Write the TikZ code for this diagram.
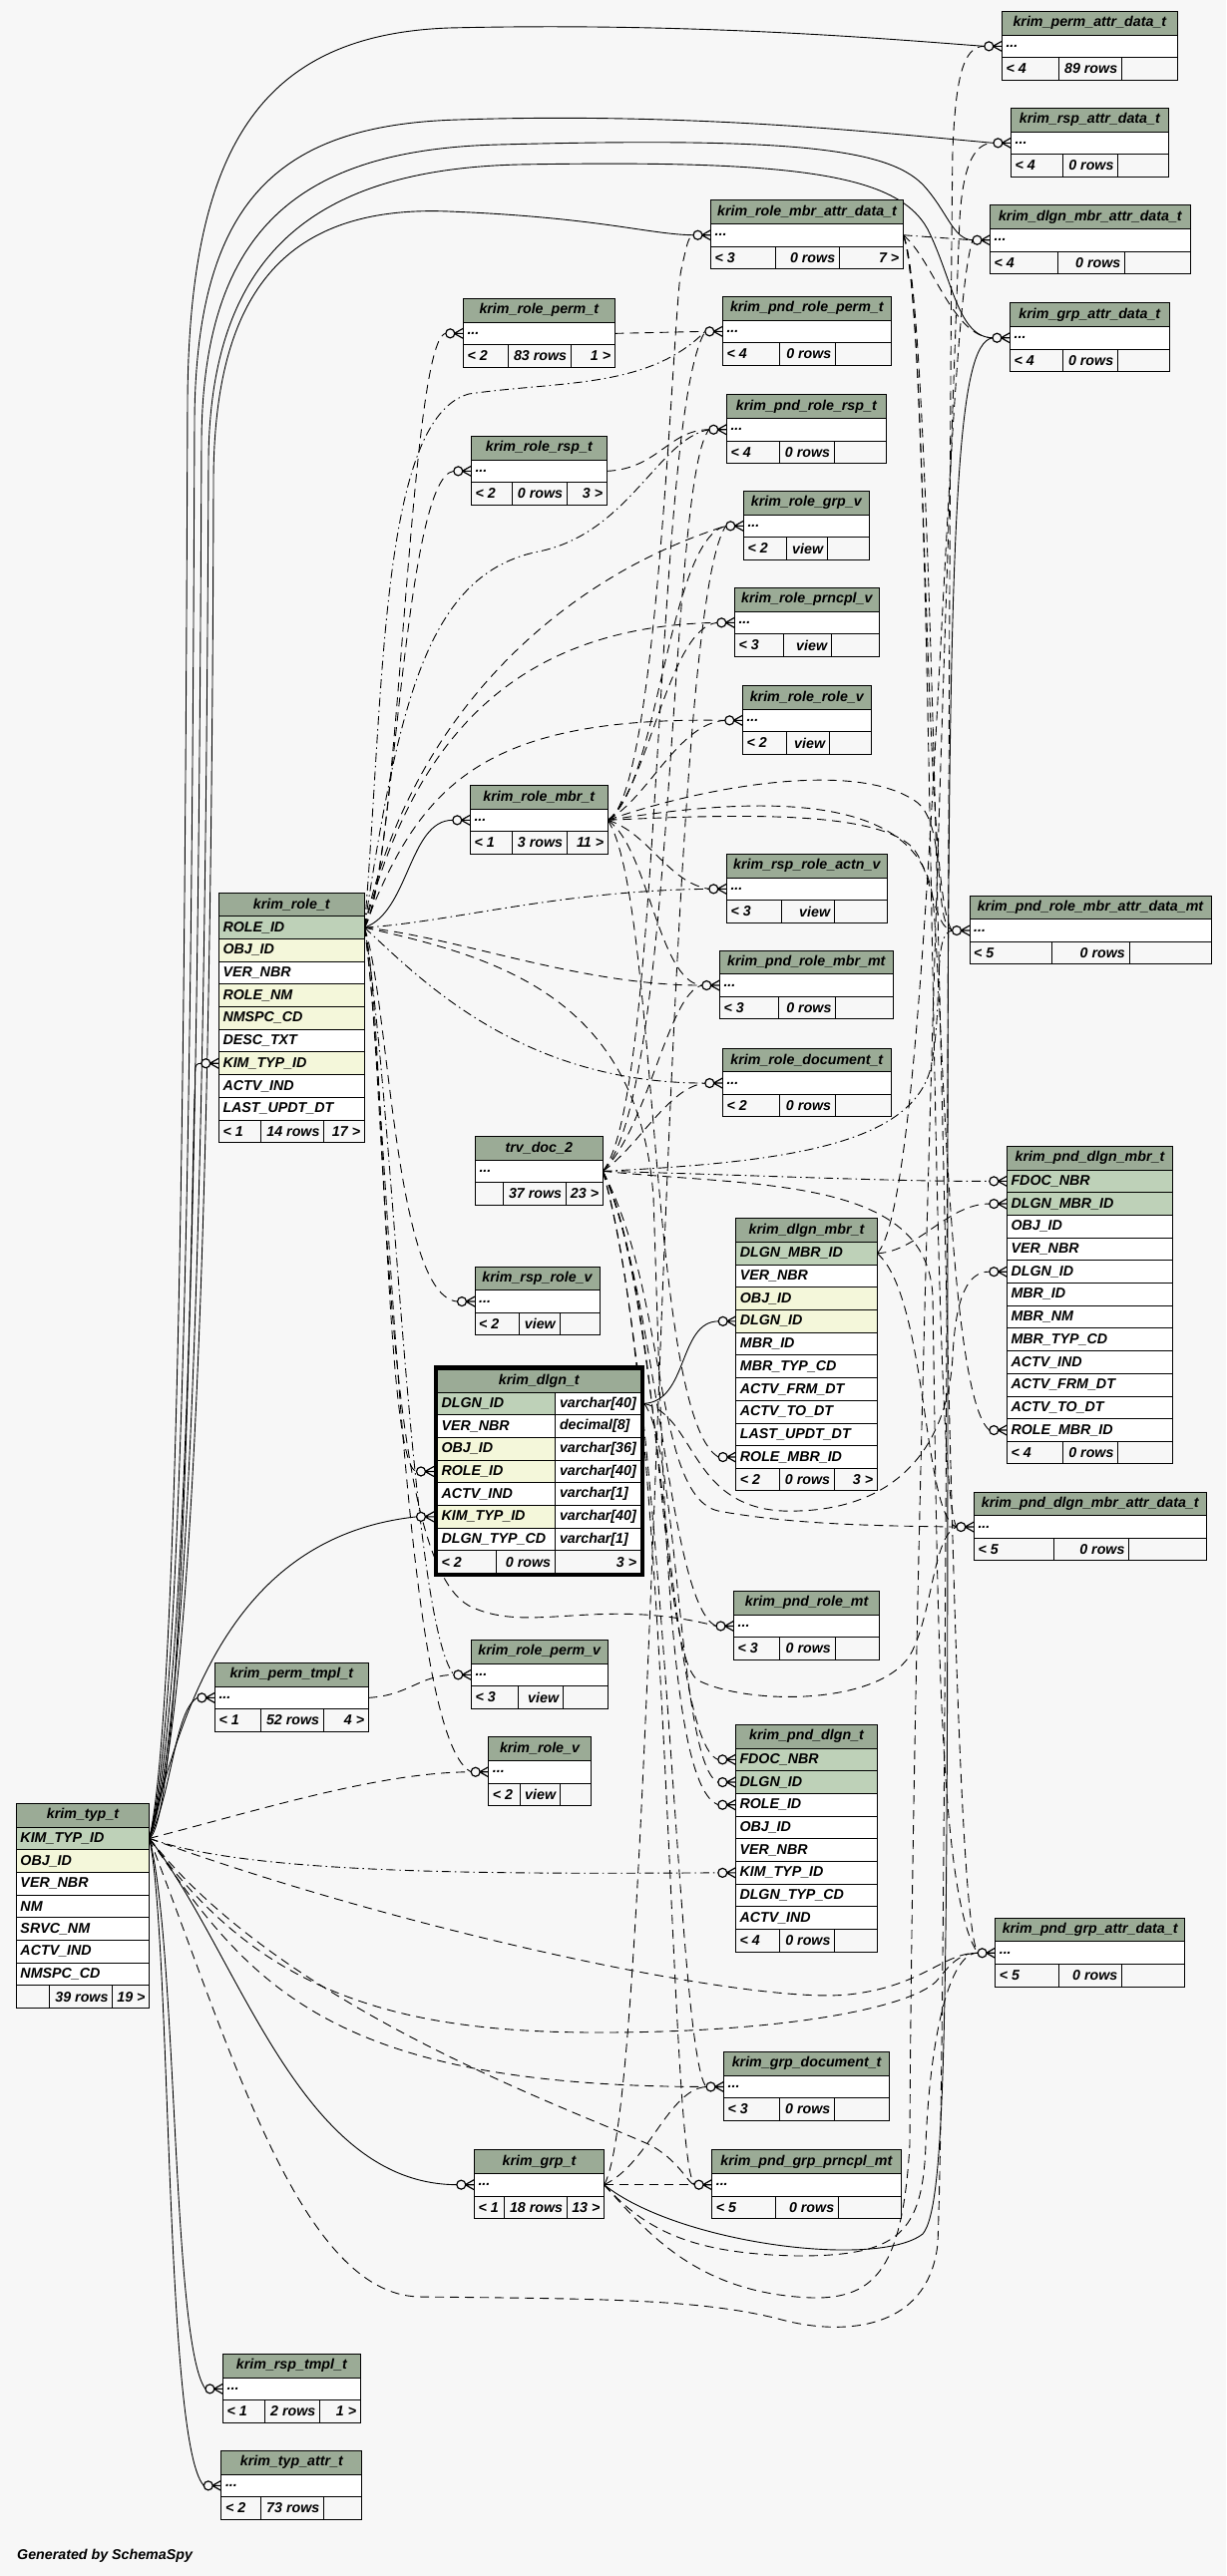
\documentclass[tikz,border=0pt]{standalone}
\usepackage{fontspec}
\setmainfont{Liberation Sans}
\usetikzlibrary{fit}
\definecolor{bgc}{HTML}{F7F7F7}
\definecolor{hdr}{HTML}{9BAB96}
\definecolor{pkc}{HTML}{BED1B8}
\definecolor{idxc}{HTML}{F4F7DA}
\definecolor{wht}{HTML}{FFFFFF}
\pgfdeclarelayer{bgl}
\pgfdeclarelayer{edges}
\pgfsetlayers{bgl,edges,main}
\newcommand\tfont{\fontsize{14.3}{17}\selectfont\bfseries\itshape}
\tikzset{
  tt/.style={font=\tfont, inner sep=0pt, text=black},
  tblarea/.style={inner sep=0pt, draw=none},
  fk/.style={draw=black, line width=0.9bp},
  ifk/.style={fk, dash pattern=on 9bp off 6bp},
  dfk/.style={fk, dash pattern=on 9bp off 4bp on 1.5bp off 4bp},
  mk/.style={draw=black, line width=1.2bp},
  cellb/.style={draw=black, line width=0.9bp},
}
\newcommand\cellbox[5]{\filldraw[cellb, fill=#5] (#1,#2) rectangle (#3,#4);}
\def\footcells#1|#2|#3\endf{%
  \node[tt,anchor=west] (\tname-fl) at (\fxa+4,\fym) {#1};%
  \node[tt,anchor=east] (\tname-fm) at (\fxc-4,\fym) {#2};%
  \node[tt,anchor=east] (\tname-fr) at (\fxd-4,\fym) {#3};}
\newcommand\stbl[8]{%
  \pgfmathsetmacro\ya{#3+23.7}%
  \pgfmathsetmacro\yb{#3+46.4}%
  \pgfmathsetmacro\yc{#3+68.9}%
  \pgfmathsetmacro\xm{(#2+#4)/2}%
  \pgfmathsetmacro\yh{#3+11.85}%
  \pgfmathsetmacro\yr{#3+35.05}%
  \pgfmathsetmacro\yf{#3+57.65}%
  \node[tblarea, fit={(#2,#3) (#4,\yc)}] (#1) {};%
  \cellbox{#2}{#3}{#4}{\ya}{hdr}%
  \cellbox{#2}{\ya}{#4}{\yb}{wht}%
  \cellbox{#2}{\yb}{#5}{\yc}{bgc}%
  \cellbox{#5}{\yb}{#6}{\yc}{bgc}%
  \cellbox{#6}{\yb}{#4}{\yc}{bgc}%
  \node[tt] (#1-title) at (\xm,\yh) {#7};%
  \node[tt,anchor=west] (#1-row) at (#2+4,\yr) {...};%
  \coordinate (#1-w) at (#2,\yr);%
  \coordinate (#1-e) at (#4,\yr);%
  \def\fxa{#2}\def\fxc{#6}\def\fxd{#4}\let\fym\yf\def\tname{#1}%
  \footcells#8\endf}
\newcommand\ftbl[9]{%
  \pgfmathsetmacro\xm{(#2+#4)/2}%
  \pgfmathsetmacro\ya{#3+23.7}%
  \pgfmathsetmacro\yh{#3+11.85}%
  \cellbox{#2}{#3}{#4}{\ya}{hdr}%
  \node[tt] (#1-title) at (\xm,\yh) {#5};%
  \foreach \rowc/\rowt [count=\i from 0] in {#6} {%
    \pgfmathsetmacro\ry{#3+23.7+22.7*\i}%
    \pgfmathsetmacro\ryb{\ry+22.7}%
    \pgfmathsetmacro\ryc{\ry+11.35}%
    \cellbox{#2}{\ry}{#4}{\ryb}{\rowc}%
    \node[tt,anchor=west] (#1-r\i) at (#2+4,\ryc) {\rowt};%
    \coordinate (#1-r\i-w) at (#2,\ryc);%
    \coordinate (#1-r\i-e) at (#4,\ryc);%
    \xdef\nrows{\i}%
  }%
  \pgfmathsetmacro\yb{#3+23.7+22.7*(\nrows+1)}%
  \pgfmathsetmacro\yc{\yb+22.5}%
  \pgfmathsetmacro\yf{\yb+11.25}%
  \cellbox{#2}{\yb}{#7}{\yc}{bgc}%
  \cellbox{#7}{\yb}{#8}{\yc}{bgc}%
  \cellbox{#8}{\yb}{#4}{\yc}{bgc}%
  \node[tblarea, fit={(#2,#3) (#4,\yc)}] (#1) {};%
  \def\fxa{#2}\def\fxc{#8}\def\fxd{#4}\let\fym\yf\def\tname{#1}%
  \footcells#9\endf}
\newcommand\childpt[2]{\coordinate (#1) at ([xshift=-17.5bp]#2);}
\newcommand\crowmark[1]{%
  \draw[mk] ([xshift=-9bp]#1) -- ([yshift=5bp]#1) ([xshift=-9bp]#1) -- (#1) ([xshift=-9bp]#1) -- ([yshift=-5bp]#1);%
  \draw[mk, fill=bgc] ([xshift=-13bp]#1) circle (4.5bp);}
\begin{document}
\begin{tikzpicture}[x=1bp,y=-1bp]
\useasboundingbox (0,0) rectangle (1229,2583);
\begin{pgfonlayer}{bgl}
\fill[bgc] (0,0) rectangle (1229,2583);
\end{pgfonlayer}
% ---------- tables ----------
\stbl{permattr}{1004.3}{11.3}{1180.4}{1061.3}{1124.4}{krim\_perm\_attr\_data\_t}{< 4|89 rows|}
\stbl{rspattr}{1013.4}{108.3}{1171.3}{1065.4}{1120.7}{krim\_rsp\_attr\_data\_t}{< 4|0 rows|}
\stbl{rolembrattr}{712.5}{200.7}{905.5}{777.3}{841.4}{krim\_role\_mbr\_attr\_data\_t}{< 3|0 rows|7 >}
\stbl{dlgnmbrattr}{992.5}{205.7}{1193.3}{1060.3}{1127.5}{krim\_dlgn\_mbr\_attr\_data\_t}{< 4|0 rows|}
\stbl{grpattr}{1012.4}{303.7}{1172.3}{1065.4}{1120.4}{krim\_grp\_attr\_data\_t}{< 4|0 rows|}
\stbl{roleperm}{464.3}{299.3}{616.3}{509.3}{572.3}{krim\_role\_perm\_t}{< 2|83 rows|1 >}
\stbl{pndroleperm}{724.3}{297.3}{893.3}{781.3}{837.6}{krim\_pnd\_role\_perm\_t}{< 4|0 rows|}
\stbl{rolersp}{472.3}{437.3}{608.3}{513.3}{568.3}{krim\_role\_rsp\_t}{< 2|0 rows|3 >}
\stbl{pndrolersp}{728.3}{395.7}{888.3}{781.3}{836.3}{krim\_pnd\_role\_rsp\_t}{< 4|0 rows|}
\stbl{rolegrpv}{745.3}{492.3}{871.3}{788.3}{829.3}{krim\_role\_grp\_v}{< 2|view|}
\stbl{roleprncplv}{736.3}{589.3}{881.3}{785.3}{833.3}{krim\_role\_prncpl\_v}{< 3|view|}
\stbl{rolerolev}{744.3}{687.3}{873.3}{788.3}{831.3}{krim\_role\_role\_v}{< 2|view|}
\stbl{rolembr}{471.3}{787.3}{609.3}{513.3}{568.3}{krim\_role\_mbr\_t}{< 1|3 rows|11 >}
\stbl{rsproleactnv}{728.3}{856.3}{889.3}{783.3}{836.3}{krim\_rsp\_role\_actn\_v}{< 3|view|}
\stbl{pndrolembrattr}{972}{898}{1214}{1054}{1132}{krim\_pnd\_role\_mbr\_attr\_data\_mt}{< 5|0 rows|}
\stbl{pndrolembrmt}{721.3}{953}{895.3}{780.3}{837.7}{krim\_pnd\_role\_mbr\_mt}{< 3|0 rows|}
\stbl{roledoc}{724.3}{1051}{893.3}{781.3}{837.3}{krim\_role\_document\_t}{< 2|0 rows|}
\stbl{trv}{476.3}{1139.3}{604.3}{504.3}{567.3}{trv\_doc\_2}{|37 rows|23 >}
\stbl{rsprolev}{476}{1270}{601}{520.6}{561}{krim\_rsp\_role\_v}{< 2|view|}
\stbl{pnddlgnmbrattr}{976.3}{1496}{1209.3}{1056}{1131.7}{krim\_pnd\_dlgn\_mbr\_attr\_data\_t}{< 5|0 rows|}
\stbl{pndrolemt}{735.5}{1595.4}{881.8}{781.3}{837}{krim\_pnd\_role\_mt}{< 3|0 rows|}
\stbl{rolepermv}{472.3}{1644.3}{609.3}{519.3}{564.3}{krim\_role\_perm\_v}{< 3|view|}
\stbl{permtmpl}{215.3}{1667.3}{369.3}{261.7}{324.3}{krim\_perm\_tmpl\_t}{< 1|52 rows|4 >}
\stbl{rolev}{489.7}{1741.7}{592.3}{521.3}{561.3}{krim\_role\_v}{< 2|view|}
\stbl{pndgrpattr}{997.6}{1923.2}{1187.7}{1061.3}{1124.5}{krim\_pnd\_grp\_attr\_data\_t}{< 5|0 rows|}
\stbl{grpdoc}{725.5}{2057.4}{891.7}{781.3}{836.5}{krim\_grp\_document\_t}{< 3|0 rows|}
\stbl{grp}{475.3}{2155.6}{605.6}{505.7}{568.3}{krim\_grp\_t}{< 1|18 rows|13 >}
\stbl{pndgrpprncpl}{713.6}{2155.6}{903.1}{777.3}{840.4}{krim\_pnd\_grp\_prncpl\_mt}{< 5|0 rows|}
\stbl{rsptmpl}{223.4}{2360.3}{361.3}{265}{320.5}{krim\_rsp\_tmpl\_t}{< 1|2 rows|1 >}
\stbl{typattr}{221.8}{2457.3}{362.9}{261}{324.5}{krim\_typ\_attr\_t}{< 2|73 rows|}
\ftbl{role}{219.3}{895}{365.3}{krim\_role\_t}{pkc/ROLE\_ID, idxc/OBJ\_ID, wht/VER\_NBR, idxc/ROLE\_NM, idxc/NMSPC\_CD, wht/DESC\_TXT, idxc/KIM\_TYP\_ID, wht/ACTV\_IND, wht/LAST\_UPDT\_DT}{261.3}{324.7}{< 1|14 rows|17 >}
\ftbl{pnddlgnmbr}{1009.3}{1149.3}{1175.7}{krim\_pnd\_dlgn\_mbr\_t}{pkc/FDOC\_NBR, pkc/DLGN\_MBR\_ID, wht/OBJ\_ID, wht/VER\_NBR, wht/DLGN\_ID, wht/MBR\_ID, wht/MBR\_NM, wht/MBR\_TYP\_CD, wht/ACTV\_IND, wht/ACTV\_FRM\_DT, wht/ACTV\_TO\_DT, wht/ROLE\_MBR\_ID}{1065.3}{1120.7}{< 4|0 rows|}
\ftbl{dlgnmbr}{737.7}{1221.7}{879.3}{krim\_dlgn\_mbr\_t}{pkc/DLGN\_MBR\_ID, wht/VER\_NBR, idxc/OBJ\_ID, idxc/DLGN\_ID, wht/MBR\_ID, wht/MBR\_TYP\_CD, wht/ACTV\_FRM\_DT, wht/ACTV\_TO\_DT, wht/LAST\_UPDT\_DT, wht/ROLE\_MBR\_ID}{781.7}{836.3}{< 2|0 rows|3 >}
\ftbl{pnddlgn}{737.3}{1729.3}{879.7}{krim\_pnd\_dlgn\_t}{pkc/FDOC\_NBR, pkc/DLGN\_ID, wht/ROLE\_ID, wht/OBJ\_ID, wht/VER\_NBR, wht/KIM\_TYP\_ID, wht/DLGN\_TYP\_CD, wht/ACTV\_IND}{781.3}{836.7}{< 4|0 rows|}
\ftbl{typ}{16.3}{1808.3}{149.7}{krim\_typ\_t}{pkc/KIM\_TYP\_ID, idxc/OBJ\_ID, wht/VER\_NBR, wht/NM, wht/SRVC\_NM, wht/ACTV\_IND, wht/NMSPC\_CD}{49.3}{112.7}{|39 rows|19 >}
% krim_dlgn_t (selected table, thick border)
\node[tblarea, fit={(435,1369.3) (645.7,1580.7)}] (dlgn) {};
\cellbox{438.4}{1373}{642.3}{1396}{hdr}
\node[tt] (dlgn-title) at (540.3,1384.5) {krim\_dlgn\_t};
\foreach \rowc/\rowt/\rowy [count=\i from 0] in {pkc/DLGN\_ID/varchar[40], wht/VER\_NBR/decimal[8], idxc/OBJ\_ID/varchar[36], idxc/ROLE\_ID/varchar[40], wht/ACTV\_IND/varchar[1], idxc/KIM\_TYP\_ID/varchar[40], wht/DLGN\_TYP\_CD/varchar[1]} {
  \pgfmathsetmacro\ry{1396+22.7*\i}
  \pgfmathsetmacro\ryb{\ry+22.7}
  \pgfmathsetmacro\ryc{\ry+11.35}
  \cellbox{438.4}{\ry}{556.3}{\ryb}{\rowc}
  \cellbox{556.3}{\ry}{642.3}{\ryb}{wht}
  \node[tt,anchor=west] (dlgn-r\i) at (442.4,\ryc) {\rowt};
  \node[tt,anchor=west] (dlgn-ty\i) at (560.8,\ryc) {\rowy};
  \coordinate (dlgn-r\i-w) at (435,\ryc);
  \coordinate (dlgn-r\i-e) at (645.7,\ryc);
}
\cellbox{438.4}{1554.9}{497.3}{1577.3}{bgc}
\cellbox{497.3}{1554.9}{556.3}{1577.3}{bgc}
\cellbox{556.3}{1554.9}{642.3}{1577.3}{bgc}
\node[tt,anchor=west] (dlgn-fl) at (442.4,1566.1) {< 2};
\node[tt,anchor=east] (dlgn-fm) at (552.3,1566.1) {0 rows};
\node[tt,anchor=east] (dlgn-fr) at (638.3,1566.1) {3 >};
\draw[line width=3.4bp] (436.7,1371) rectangle (644,1579);
\node[tt,anchor=west] (gen) at (17,2563) {Generated by SchemaSpy};
% ---------- child end points ----------
\childpt{i-permattr}{permattr-w}
\childpt{i-rspattr}{rspattr-w}
\childpt{i-rolembrattr}{rolembrattr-w}
\childpt{i-dlgnmbrattr}{dlgnmbrattr-w}
\childpt{i-grpattr}{grpattr-w}
\childpt{i-roleperm}{roleperm-w}
\childpt{i-pndroleperm}{pndroleperm-w}
\childpt{i-rolersp}{rolersp-w}
\childpt{i-pndrolersp}{pndrolersp-w}
\childpt{i-rolegrpv}{rolegrpv-w}
\childpt{i-roleprncplv}{roleprncplv-w}
\childpt{i-rolerolev}{rolerolev-w}
\childpt{i-rolembr}{rolembr-w}
\childpt{i-rsproleactnv}{rsproleactnv-w}
\childpt{i-pndrolembrattr}{pndrolembrattr-w}
\childpt{i-roleKIM}{role-r6-w}
\childpt{i-pndrolembrmt}{pndrolembrmt-w}
\childpt{i-roledoc}{roledoc-w}
\childpt{i-pdmFDOC}{pnddlgnmbr-r0-w}
\childpt{i-pdmDLGNMBR}{pnddlgnmbr-r1-w}
\childpt{i-pdmDLGN}{pnddlgnmbr-r4-w}
\childpt{i-pdmROLEMBR}{pnddlgnmbr-r11-w}
\childpt{i-dmDLGN}{dlgnmbr-r3-w}
\childpt{i-dmROLEMBR}{dlgnmbr-r9-w}
\childpt{i-rsprolev}{rsprolev-w}
\childpt{i-dlgnROLE}{dlgn-r3-w}
\childpt{i-dlgnKIM}{dlgn-r5-w}
\childpt{i-pnddlgnmbrattr}{pnddlgnmbrattr-w}
\childpt{i-pndrolemt}{pndrolemt-w}
\childpt{i-rolepermv}{rolepermv-w}
\childpt{i-permtmpl}{permtmpl-w}
\childpt{i-rolev}{rolev-w}
\childpt{i-pdFDOC}{pnddlgn-r0-w}
\childpt{i-pdDLGN}{pnddlgn-r1-w}
\childpt{i-pdROLE}{pnddlgn-r2-w}
\childpt{i-pdKIM}{pnddlgn-r5-w}
\childpt{i-pndgrpattr}{pndgrpattr-w}
\childpt{i-grpdoc}{grpdoc-w}
\childpt{i-grp}{grp-w}
\childpt{i-pndgrpprncpl}{pndgrpprncpl-w}
\childpt{i-rsptmpl}{rsptmpl-w}
\childpt{i-typattr}{typattr-w}
% ---------- connectors ----------
\begin{pgfonlayer}{edges}
% solid, from krim_typ_t
\draw[fk] (typ-r0-e) .. controls (185,1820) and (192,1200) .. (195,1100) .. controls (197,1075) and (192,1066) .. (i-roleKIM);
\draw[fk] (typ-r0-e) .. controls (172,1800) and (175,1715) .. (i-permtmpl);
\draw[fk] (typ-r0-e) .. controls (185,1700) and (240,1540) .. (i-dlgnKIM);
\draw[fk] (typ-r0-e) .. controls (240,1960) and (300,2190) .. (i-grp);
\draw[fk] (typ-r0-e) .. controls (178,1950) and (172,2350) .. (i-rsptmpl);
\draw[fk] (typ-r0-e) .. controls (172,1950) and (165,2450) .. (i-typattr);
\draw[fk] (typ-r0-e) .. controls (182,1700) and (186,900) .. (188,400) .. controls (190,150) and (260,35) .. (450,28) .. controls (700,22) and (900,40) .. (i-permattr);
\draw[fk] (typ-r0-e) .. controls (188,1700) and (193,900) .. (195,420) .. controls (197,200) and (280,125) .. (460,120) .. controls (700,112) and (900,135) .. (i-rspattr);
\draw[fk] (typ-r0-e) .. controls (194,1700) and (200,900) .. (202,440) .. controls (204,230) and (300,150) .. (500,145) .. controls (800,137) and (890,150) .. (925,185) .. controls (950,212) and (955,240) .. (i-dlgnmbrattr);
\draw[fk] (typ-r0-e) .. controls (200,1700) and (207,900) .. (209,460) .. controls (211,250) and (320,170) .. (520,165) .. controls (800,160) and (900,175) .. (930,230) .. controls (955,280) and (960,338) .. (i-grpattr);
\draw[fk] (typ-r0-e) .. controls (205,1700) and (213,900) .. (214,480) .. controls (215,300) and (280,205) .. (450,212) .. controls (600,218) and (650,235) .. (i-rolembrattr);
% other solid
\draw[ifk] (rolembr-e) .. controls (660,800) and (675,300) .. (683,270) .. controls (688,248) and (690,236) .. (i-rolembrattr);
\draw[fk] (role-r0-e) .. controls (410,915) and (410,822) .. (i-rolembr);
\draw[fk] (dlgn-r0-e) .. controls (690,1405) and (680,1325) .. (i-dmDLGN);
\draw[fk] (grp-e) .. controls (680,2250) and (880,2275) .. (925,2240) .. controls (950,2210) and (950,2000) .. (950,1200) .. controls (950,500) and (960,345) .. (i-grpattr);
% implied, from krim_role_t
\draw[ifk] (role-r0-e) .. controls (400,880) and (410,340) .. (i-roleperm);
\draw[ifk] (role-r0-e) .. controls (395,880) and (405,478) .. (i-rolersp);
\draw[dfk] (role-r0-e) .. controls (385,700) and (380,420) .. (470,395) .. controls (560,382) and (650,390) .. (i-pndroleperm);
\draw[dfk] (role-r0-e) .. controls (400,700) and (430,575) .. (540,553) .. controls (630,535) and (660,440) .. (i-pndrolersp);
\draw[ifk] (role-r0-e) .. controls (410,720) and (560,580) .. (i-rolegrpv);
\draw[ifk] (role-r0-e) .. controls (410,760) and (500,628) .. (i-roleprncplv);
\draw[ifk] (role-r0-e) .. controls (420,790) and (480,718) .. (i-rolerolev);
\draw[dfk] (role-r0-e) .. controls (450,925) and (560,893) .. (i-rsproleactnv);
\draw[ifk] (role-r0-e) .. controls (460,940) and (580,988) .. (i-pndrolembrmt);
\draw[dfk] (role-r0-e) .. controls (420,980) and (520,1086) .. (i-roledoc);
\draw[ifk] (role-r0-e) .. controls (390,1000) and (395,1300) .. (i-rsprolev);
\draw[ifk] (role-r0-e) .. controls (385,1000) and (385,1470) .. (i-dlgnROLE);
\draw[dfk] (role-r0-e) .. controls (395,1100) and (410,1620) .. (i-rolepermv);
\draw[ifk] (role-r0-e) .. controls (390,1100) and (400,1740) .. (i-rolev);
\draw[ifk] (role-r0-e) .. controls (390,1100) and (380,1560) .. (470,1610) .. controls (530,1640) and (600,1600) .. (i-pndrolemt);
\draw[ifk] (role-r0-e) .. controls (500,960) and (640,1000) .. (655,1200) .. controls (665,1500) and (670,1790) .. (i-pdROLE);
% implied, from krim_role_mbr_t
\draw[ifk] (rolembr-e) .. controls (660,790) and (670,540) .. (i-rolegrpv);
\draw[ifk] (rolembr-e) .. controls (650,790) and (670,630) .. (i-roleprncplv);
\draw[ifk] (rolembr-e) .. controls (650,800) and (680,725) .. (i-rolerolev);
\draw[ifk] (rolembr-e) .. controls (650,835) and (670,885) .. (i-rsproleactnv);
\draw[ifk] (rolembr-e) .. controls (650,850) and (660,985) .. (i-pndrolembrmt);
\draw[ifk] (rolembr-e) .. controls (700,790) and (860,760) .. (920,805) .. controls (950,830) and (935,925) .. (i-pndrolembrattr);
\draw[ifk] (rolembr-e) .. controls (760,815) and (880,815) .. (915,850) .. controls (935,875) and (935,930) .. (i-pndrolembrattr);
\draw[ifk] (rolembr-e) .. controls (660,900) and (650,1420) .. (i-dmROLEMBR);
\draw[ifk] (rolembr-e) .. controls (750,800) and (920,790) .. (935,900) .. controls (945,1000) and (950,1400) .. (i-pdmROLEMBR);
% implied, from trv_doc_2
\draw[ifk] (trv-e) .. controls (665,1100) and (655,420) .. (i-pndroleperm);
\draw[ifk] (trv-e) .. controls (678,1100) and (670,480) .. (i-pndrolersp);
\draw[ifk] (trv-e) .. controls (650,1130) and (670,995) .. (i-pndrolembrmt);
\draw[ifk] (trv-e) .. controls (640,1150) and (670,1090) .. (i-roledoc);
\draw[dfk] (trv-e) .. controls (800,1165) and (925,1145) .. (935,1060) .. controls (945,1000) and (935,935) .. (i-pndrolembrattr);
\draw[dfk] (trv-e) .. controls (750,1178) and (900,1185) .. (i-pdmFDOC);
\draw[ifk] (trv-e) .. controls (670,1300) and (655,1500) .. (720,1515) .. controls (800,1530) and (900,1530) .. (i-pnddlgnmbrattr);
\draw[ifk] (trv-e) .. controls (660,1300) and (670,1610) .. (i-pndrolemt);
\draw[ifk] (trv-e) .. controls (665,1300) and (668,1745) .. (i-pdFDOC);
\draw[ifk] (trv-e) .. controls (668,1400) and (678,2060) .. (i-grpdoc);
\draw[ifk] (trv-e) .. controls (672,1400) and (670,2160) .. (i-pndgrpprncpl);
\draw[ifk] (trv-e) .. controls (760,1190) and (930,1180) .. (935,1300) .. controls (940,1600) and (940,1900) .. (i-pndgrpattr);
\draw[ifk] (trv-e) .. controls (665,1300) and (660,1660) .. (700,1685) .. controls (750,1710) and (880,1710) .. (912,1660) .. controls (935,1620) and (935,1540) .. (i-pnddlgnmbrattr);
% implied, from krim_dlgn_t and krim_dlgn_mbr_t
\draw[ifk] (dlgn-r0-e) .. controls (700,1420) and (690,1520) .. (800,1515) .. controls (900,1512) and (950,1450) .. (955,1360) .. controls (958,1300) and (970,1275) .. (i-pdmDLGN);
\draw[ifk] (dlgn-r0-e) .. controls (680,1450) and (680,1770) .. (i-pdDLGN);
\draw[ifk] (dlgnmbr-r0-e) .. controls (920,1255) and (950,1207) .. (i-pdmDLGNMBR);
\draw[ifk] (dlgnmbr-r0-e) .. controls (935,1200) and (945,330) .. (i-dlgnmbrattr);
\draw[ifk] (dlgnmbr-r0-e) .. controls (930,1300) and (925,1520) .. (i-pnddlgnmbrattr);
% implied, from krim_role_mbr_attr_data_t
\draw[dfk] (rolembrattr-e) -- (i-dlgnmbrattr);
\draw[ifk] (rolembrattr-e) .. controls (930,300) and (925,900) .. (i-pndrolembrattr);
\draw[ifk] (rolembrattr-e) .. controls (938,320) and (930,1480) .. (i-pnddlgnmbrattr);
\draw[ifk] (rolembrattr-e) .. controls (945,320) and (945,1900) .. (i-pndgrpattr);
\draw[ifk] (rolembrattr-e) .. controls (935,260) and (955,338) .. (i-grpattr);
% implied, other parents
\draw[ifk] (roleperm-e) -- (i-pndroleperm);
\draw[ifk] (rolersp-e) .. controls (660,470) and (670,431) .. (i-pndrolersp);
\draw[ifk] (permtmpl-e) .. controls (410,1700) and (420,1680) .. (i-rolepermv);
\draw[ifk] (grp-e) -- (i-pndgrpprncpl);
\draw[ifk] (grp-e) .. controls (650,2170) and (670,2095) .. (i-grpdoc);
\draw[ifk] (grp-e) .. controls (650,2240) and (700,2260) .. (800,2262) .. controls (900,2262) and (925,2240) .. (928,2150) .. controls (932,2050) and (950,1958) .. (i-pndgrpattr);
\draw[ifk] (grp-e) .. controls (660,2100) and (660,620) .. (i-rolegrpv);
\draw[ifk] (grp-e) .. controls (650,2240) and (700,2300) .. (815,2304) .. controls (880,2305) and (905,2270) .. (912,2150) .. controls (915,1500) and (955,400) .. (962,220) .. controls (965,170) and (975,143) .. (i-rspattr);
% implied, from krim_typ_t
\draw[ifk] (typ-r0-e) .. controls (260,1815) and (380,1777) .. (i-rolev);
\draw[dfk] (typ-r0-e) .. controls (250,1880) and (500,1879) .. (i-pdKIM);
\draw[ifk] (typ-r0-e) .. controls (400,1935) and (750,2010) .. (850,2000) .. controls (925,1992) and (945,1958) .. (i-pndgrpattr);
\draw[ifk] (typ-r0-e) .. controls (260,2000) and (400,2038) .. (600,2038) .. controls (800,2038) and (920,2010) .. (940,1985) .. controls (955,1966) and (965,1958) .. (i-pndgrpattr);
\draw[ifk] (typ-r0-e) .. controls (250,1990) and (330,2092) .. (i-grpdoc);
\draw[ifk] (typ-r0-e) .. controls (280,2010) and (560,2110) .. (650,2150) .. controls (680,2165) and (690,2190) .. (i-pndgrpprncpl);
\draw[ifk] (typ-r0-e) .. controls (230,2050) and (300,2300) .. (420,2303) .. controls (600,2305) and (700,2305) .. (780,2325) .. controls (840,2342) and (930,2340) .. (940,2250) .. controls (950,2000) and (950,500) .. (955,150) .. controls (958,80) and (965,46) .. (i-permattr);
\end{pgfonlayer}
% ---------- crow's feet ----------
\foreach \w in {permattr-w, rspattr-w, rolembrattr-w, dlgnmbrattr-w, grpattr-w, roleperm-w, pndroleperm-w, rolersp-w, pndrolersp-w, rolegrpv-w, roleprncplv-w, rolerolev-w, rolembr-w, rsproleactnv-w, pndrolembrattr-w, role-r6-w, pndrolembrmt-w, roledoc-w, pnddlgnmbr-r0-w, pnddlgnmbr-r1-w, pnddlgnmbr-r4-w, pnddlgnmbr-r11-w, dlgnmbr-r3-w, dlgnmbr-r9-w, rsprolev-w, dlgn-r3-w, dlgn-r5-w, pnddlgnmbrattr-w, pndrolemt-w, rolepermv-w, permtmpl-w, rolev-w, pnddlgn-r0-w, pnddlgn-r1-w, pnddlgn-r2-w, pnddlgn-r5-w, pndgrpattr-w, grpdoc-w, grp-w, pndgrpprncpl-w, rsptmpl-w, typattr-w} {\crowmark{\w}}
\end{tikzpicture}
\end{document}
